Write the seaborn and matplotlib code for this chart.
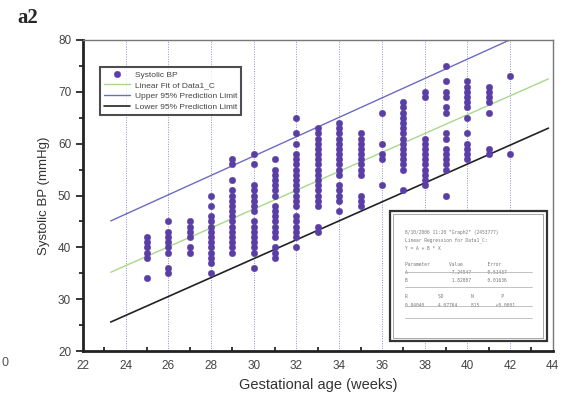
import pandas as pd
import seaborn as sns
import matplotlib.pyplot as plt
from matplotlib.patches import Rectangle
from matplotlib.ticker import MultipleLocator

# Systolic BP readings (mmHg) per gestational week
weeks = [25, 26, 27, 28, 29, 30, 31, 32, 33, 34, 35, 36, 37, 38, 39, 40, 41, 42]
bp_by_week = [
    [34, 38, 39, 40, 41, 42],
    [35, 36, 39, 40, 41, 42, 43, 45],
    [39, 40, 42, 43, 44, 45],
    [35, 37, 38, 39, 40, 41, 42, 43, 44, 45, 46, 48, 50],
    [39, 40, 41, 42, 43, 44, 45, 46, 47, 48, 49, 50, 51, 53, 56, 57],
    [36, 39, 40, 41, 42, 43, 44, 45, 47, 48, 49, 50, 51, 52, 56, 58],
    [38, 39, 40, 42, 43, 44, 45, 46, 47, 48, 50, 51, 52, 53, 54, 55, 57],
    [40, 42, 43, 44, 45, 46, 48, 49, 50, 51, 52, 53, 54, 55, 56, 57, 58, 60, 62, 65],
    [43, 44, 48, 49, 50, 51, 52, 53, 54, 55, 56, 57, 58, 59, 60, 61, 62, 63],
    [47, 49, 50, 51, 52, 54, 55, 56, 57, 58, 59, 60, 61, 62, 63, 64],
    [48, 49, 50, 54, 55, 56, 57, 58, 59, 60, 61, 62],
    [52, 57, 58, 60, 66],
    [51, 55, 56, 57, 58, 59, 60, 61, 62, 63, 64, 65, 66, 67, 68],
    [52, 53, 54, 55, 56, 57, 58, 59, 60, 61, 69, 70],
    [50, 55, 56, 57, 58, 59, 61, 62, 66, 67, 69, 70, 72, 75],
    [57, 58, 59, 60, 62, 65, 67, 68, 69, 70, 71, 72],
    [58, 59, 66, 68, 69, 70, 71],
    [58, 73],
]

# regression line and 95% prediction limits (end points)
line_x = [23.3, 43.8]
fit_y = [35.2, 72.5]
upper_y = [45.1, 83.4]
lower_y = [25.6, 63.0]

stats_lines = [
    '8/10/2006 11:20 "Graph2" (2453777)',
    'Linear Regression for Data1_C:',
    'Y = A + B * X',
    '',
    'Parameter       Value         Error',
    'A               -7.24547      0.51437',
    'B                1.82087      0.01636',
    '',
    'R           SD          N          P',
    '0.84040     4.07764     815      <0.0001',
]

rows = [(w, v) for w, vals in zip(weeks, bp_by_week) for v in vals]
df = pd.DataFrame(rows, columns=['week', 'bp'])
lines = pd.DataFrame({'x': line_x, 'fit': fit_y, 'upper': upper_y, 'lower': lower_y})

sns.set_style('white')
plt.rcParams['font.family'] = ['Liberation Sans', 'DejaVu Sans']

fig = plt.figure(figsize=(5.8, 4.04), dpi=100)
ax = fig.add_axes([0.143, 0.131, 0.810, 0.770])

for x in range(24, 44, 2):
    ax.axvline(x, color='#9090cc', lw=0.7, ls=(0, (1, 1.5)), zorder=0)

sns.scatterplot(data=df, x='week', y='bp', ax=ax, color='#5a3ea6', edgecolor='#5a3ea6',
                s=22, linewidth=0.3, label='Systolic BP', zorder=3)
sns.lineplot(data=lines, x='x', y='fit', ax=ax, color='#a8d88a', lw=1.0,
             label='Linear Fit of Data1_C', zorder=2)
sns.lineplot(data=lines, x='x', y='upper', ax=ax, color='#6b6bc4', lw=1.0,
             label='Upper 95% Prediction Limit', zorder=2)
sns.lineplot(data=lines, x='x', y='lower', ax=ax, color='#222222', lw=1.2,
             label='Lower 95% Prediction Limit', zorder=2)

ax.set_xlim(22, 44)
ax.set_ylim(20, 80)
ax.xaxis.set_major_locator(MultipleLocator(2))
ax.xaxis.set_minor_locator(MultipleLocator(1))
ax.yaxis.set_major_locator(MultipleLocator(10))
ax.yaxis.set_minor_locator(MultipleLocator(5))
ax.tick_params(axis='x', which='major', direction='inout', length=7, width=1.3,
               labelsize=8.5, labelcolor='#444444', pad=3)
ax.tick_params(axis='x', which='minor', direction='in', length=3, width=1.3, bottom=True)
ax.tick_params(axis='y', which='major', direction='out', length=5, width=1.3,
               labelsize=8.5, labelcolor='#444444', left=True)
ax.tick_params(axis='y', which='minor', direction='out', length=3, width=1.3, left=True)

for side in ['left', 'bottom']:
    ax.spines[side].set_linewidth(2)
    ax.spines[side].set_color('#222222')
for side in ['top', 'right']:
    ax.spines[side].set_linewidth(1)
    ax.spines[side].set_color('#777777')

ax.set_xlabel('Gestational age (weeks)', fontsize=10.5, color='#333333', labelpad=4)
ax.set_ylabel('Systolic BP (mmHg)', fontsize=9.5, color='#333333', labelpad=6)

leg = ax.legend(loc='upper left', bbox_to_anchor=(0.036, 0.913), borderaxespad=0,
                fontsize=6, frameon=True, fancybox=False, handlelength=3.2,
                labelspacing=0.35, borderpad=0.45, handletextpad=0.6)
leg.get_frame().set_edgecolor('#222222')
leg.get_frame().set_linewidth(1.5)
for t in leg.get_texts():
    t.set_color('#444444')

# regression statistics box
ax.add_patch(Rectangle((0.653, 0.032), 0.334, 0.418, transform=ax.transAxes,
                       facecolor='white', edgecolor='#333333', lw=1.6, zorder=5))
ax.add_patch(Rectangle((0.660, 0.042), 0.320, 0.398, transform=ax.transAxes,
                       facecolor='none', edgecolor='#999999', lw=0.6, zorder=5))
y0 = 0.39
for i, txt in enumerate(stats_lines):
    ax.text(0.685, y0 - i * 0.026, txt, transform=ax.transAxes, fontsize=3.3,
            color='#777777', va='top', ha='left', zorder=6, family='DejaVu Sans Mono')
for yl in [0.255, 0.205, 0.145, 0.105]:
    ax.plot([0.685, 0.955], [yl, yl], transform=ax.transAxes, color='#aaaaaa',
            lw=0.5, zorder=6)

fig.text(0.03, 0.955, 'a2', fontsize=15, fontweight='bold', family='Liberation Serif',
         va='center', ha='left')
fig.text(0.002, 0.101, '0', fontsize=9, color='#555555', ha='left', va='center')

fig.savefig('out.png', dpi=100)
